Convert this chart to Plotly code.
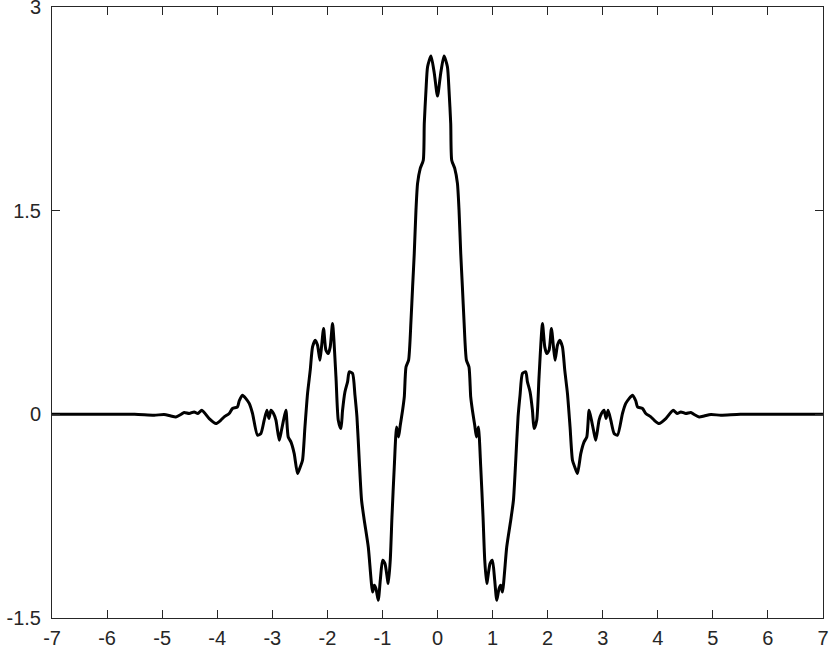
import plotly.graph_objects as go

# curve, left half then right half
x_left = [-7.0, -5.5, -5.145, -4.965, -4.843, -4.752, -4.661, -4.600, -4.509, -4.419,
          -4.352, -4.280, -4.146, -4.024, -3.934, -3.874, -3.783, -3.723, -3.632, -3.600,
          -3.541, -3.479, -3.419, -3.359, -3.269, -3.207, -3.147, -3.098, -3.061, -3.025,
          -2.978, -2.934, -2.874, -2.833, -2.796, -2.753, -2.711, -2.662, -2.602, -2.542,
          -2.493, -2.451, -2.407, -2.360, -2.311, -2.269, -2.220, -2.178, -2.135, -2.106,
          -2.069, -2.026, -1.984, -1.948, -1.906, -1.844, -1.802, -1.753, -1.724, -1.681,
          -1.633, -1.603, -1.543, -1.499, -1.463, -1.421, -1.379, -1.330, -1.257, -1.179,
          -1.148, -1.117, -1.076, -1.039, -0.997, -0.954, -0.894, -0.858, -0.827, -0.785,
          -0.743, -0.707, -0.676, -0.634, -0.603, -0.572, -0.525, -0.481, -0.452, -0.422,
          -0.391, -0.362, -0.313, -0.258, -0.240, -0.209, -0.180, -0.118, -0.058]
y_left = [0.0, 0.0, -0.007, -0.001, -0.012, -0.019, -0.001, 0.014, 0.006, 0.018,
          0.006, 0.030, -0.031, -0.068, -0.043, -0.019, 0.006, 0.043, 0.055, 0.100,
          0.141, 0.116, 0.080, 0.006, -0.154, -0.141, -0.043, 0.030, -0.031, 0.030,
          0.006, -0.043, -0.191, -0.117, -0.043, 0.030, -0.167, -0.203, -0.289, -0.436,
          -0.388, -0.338, -0.093, 0.153, 0.325, 0.497, 0.546, 0.509, 0.399, 0.497,
          0.632, 0.472, 0.448, 0.497, 0.669, 0.276, -0.043, -0.105, 0.030, 0.165,
          0.239, 0.313, 0.301, 0.141, -0.019, -0.338, -0.633, -0.780, -0.977, -1.309,
          -1.259, -1.284, -1.370, -1.223, -1.075, -1.100, -1.247, -1.075, -0.756, -0.388,
          -0.093, -0.167, -0.080, 0.030, 0.128, 0.349, 0.399, 0.693, 0.939, 1.185,
          1.504, 1.701, 1.811, 1.872, 2.143, 2.388, 2.560, 2.639, 2.511]

x_right = [0.000, 0.058, 0.118, 0.180, 0.209, 0.240, 0.258, 0.313, 0.362, 0.391,
           0.422, 0.452, 0.481, 0.525, 0.572, 0.603, 0.634, 0.676, 0.707, 0.743,
           0.785, 0.827, 0.858, 0.894, 0.954, 0.997, 1.039, 1.076, 1.117, 1.148,
           1.179, 1.257, 1.330, 1.379, 1.421, 1.463, 1.499, 1.543, 1.603, 1.633,
           1.681, 1.724, 1.753, 1.802, 1.844, 1.906, 1.948, 1.984, 2.026, 2.069,
           2.106, 2.135, 2.178, 2.220, 2.269, 2.311, 2.360, 2.407, 2.451, 2.493,
           2.542, 2.602, 2.662, 2.711, 2.753, 2.796, 2.833, 2.874, 2.934, 2.978,
           3.025, 3.061, 3.098, 3.147, 3.207, 3.269, 3.359, 3.419, 3.479, 3.541,
           3.600, 3.632, 3.723, 3.783, 3.874, 3.934, 4.024, 4.146, 4.280, 4.352,
           4.419, 4.509, 4.600, 4.661, 4.752, 4.843, 4.965, 5.145, 5.5, 7.0]
y_right = [2.344, 2.511, 2.639, 2.560, 2.388, 2.143, 1.872, 1.811, 1.701, 1.504,
           1.185, 0.939, 0.693, 0.399, 0.349, 0.128, 0.030, -0.080, -0.167, -0.093,
           -0.388, -0.756, -1.075, -1.247, -1.100, -1.075, -1.223, -1.370, -1.284, -1.259,
           -1.309, -0.977, -0.780, -0.633, -0.338, -0.019, 0.141, 0.301, 0.313, 0.239,
           0.165, 0.030, -0.105, -0.043, 0.276, 0.669, 0.497, 0.448, 0.472, 0.632,
           0.497, 0.399, 0.509, 0.546, 0.497, 0.325, 0.153, -0.093, -0.338, -0.388,
           -0.436, -0.289, -0.203, -0.167, 0.030, -0.043, -0.117, -0.191, -0.043, 0.006,
           0.030, -0.031, 0.030, -0.043, -0.141, -0.154, 0.006, 0.080, 0.116, 0.141,
           0.100, 0.055, 0.043, 0.006, -0.019, -0.043, -0.068, -0.031, 0.030, 0.006,
           0.018, 0.006, 0.014, -0.001, -0.019, -0.012, -0.001, -0.007, 0.0, 0.0]

x_ticks = [-7, -6, -5, -4, -3, -2, -1, 0, 1, 2, 3, 4, 5, 6, 7]
x_labels = ['-7', '-6', '-5', '-4', '-3', '-2', '-1', '0', '1', '2', '3', '4', '5', '6', '7']
y_ticks = [-1.5, 0, 1.5, 3]
y_labels = ['-1.5', '0', '1.5', '3']

fig = go.Figure()
fig.add_trace(go.Scatter(x=x_left + x_right, y=y_left + y_right,
                mode='lines',
                line=dict(color='black', width=3, shape='spline', smoothing=0.6),
                showlegend=False)
)

axis_style = dict(showline=True, linecolor='#262626', linewidth=1, mirror='ticks',
                  ticks='inside', ticklen=8, tickcolor='#262626', tickwidth=1,
                  showgrid=False, zeroline=False, automargin=False,
                  ticklabeloverflow='allow',
                  tickfont=dict(family='Liberation Sans, Arial', size=20, color='#262626'))

fig.update_layout(
        width=830, height=655,
        margin=dict(l=52, r=7, t=7, b=37, autoexpand=False),
        paper_bgcolor='white', plot_bgcolor='white',
        xaxis=dict(range=[-7.0005, 7.0005], tickvals=x_ticks, ticktext=x_labels,
                   ticklabelstandoff=2, **axis_style),
        yaxis=dict(range=[-1.5002, 3.0002], tickvals=y_ticks, ticktext=y_labels,
                   ticklabelstandoff=6, **axis_style)
)

# page body has an 8px default margin, drop it so the figure sits at 0,0
fig.write_html("out.html", config={'displayModeBar': False},
               post_script="document.body.style.margin='0';")
